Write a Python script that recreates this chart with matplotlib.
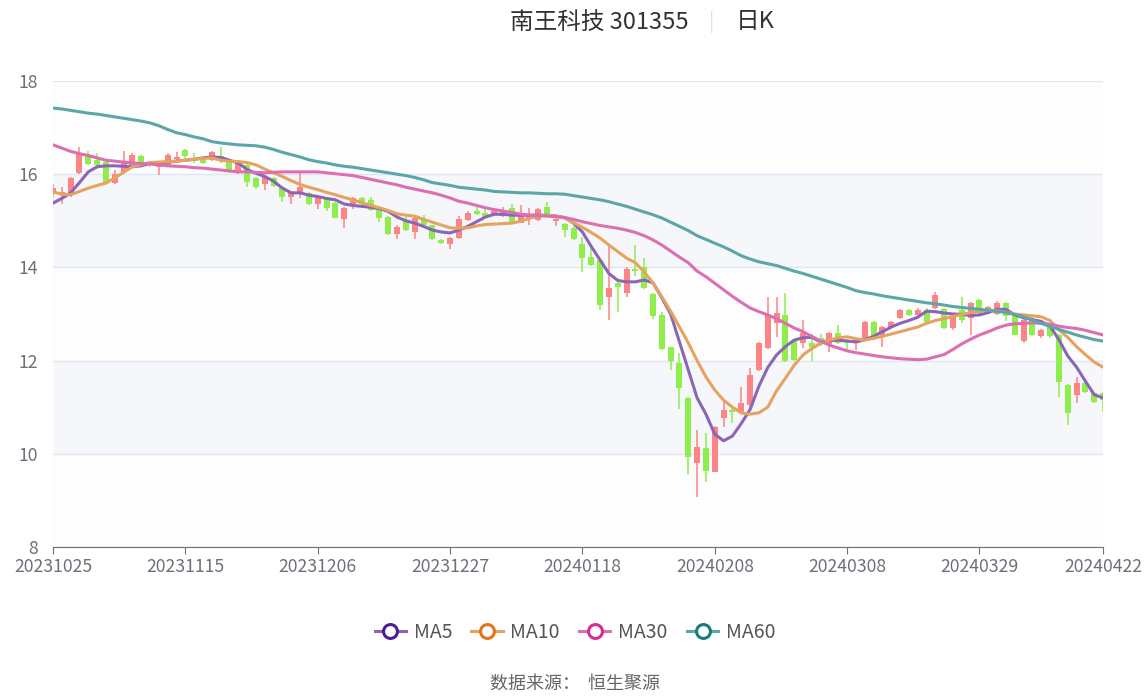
import matplotlib.pyplot as plt
from matplotlib.lines import Line2D
import numpy as np
import pandas as pd

plt.rcParams['font.family'] = ['Noto Sans CJK SC', 'DejaVu Sans']

# trading days 2023-10-25 .. 2024-04-22 (SSE/SZSE holidays removed)
holidays = ['2024-01-01', '2024-02-09', '2024-02-12', '2024-02-13', '2024-02-14',
            '2024-02-15', '2024-02-16', '2024-04-04', '2024-04-05']
dates = [d.strftime('%Y%m%d') for d in pd.bdate_range('2023-10-25', '2024-04-22')
         if d.strftime('%Y-%m-%d') not in holidays]

# daily candles
opens = [15.58, 15.58, 15.56, 16.02, 16.40, 16.30, 16.26, 15.82, 16.05, 16.18,
         16.40, 16.25, 16.15, 16.20, 16.33, 16.52, 16.33, 16.32, 16.30, 16.38,
         16.28, 16.03, 16.20, 15.92, 15.80, 15.92, 15.73, 15.50, 15.60, 15.60,
         15.35, 15.49, 15.38, 15.03, 15.35, 15.48, 15.45, 15.23, 15.08, 14.72,
         15.00, 14.76, 15.02, 14.90, 14.58, 14.50, 14.63, 15.02, 15.20, 15.17,
         15.15, 15.10, 15.27, 14.96, 15.05, 15.02, 15.30, 15.00, 14.93, 14.85,
         14.50, 14.22, 14.15, 13.37, 13.66, 13.46, 13.96, 14.00, 13.43, 12.98,
         12.29, 11.95, 11.20, 9.80, 10.12, 9.62, 10.77, 10.94, 10.88, 11.05,
         11.80, 12.27, 12.80, 12.98, 12.44, 12.38, 12.38, 12.49, 12.33, 12.60,
         12.44, 12.38, 12.44, 12.83, 12.55, 12.72, 12.91, 13.09, 12.98, 13.08,
         13.13, 13.10, 12.70, 13.09, 12.92, 13.30, 13.02, 13.00, 13.24, 12.98,
         12.41, 12.87, 12.52, 12.72, 12.55, 11.48, 11.26, 11.52, 11.30, 11.30]
closes = [15.70, 15.62, 15.92, 16.45, 16.22, 16.20, 15.82, 16.00, 16.27, 16.42,
          16.27, 16.20, 16.20, 16.41, 16.37, 16.38, 16.28, 16.25, 16.48, 16.33,
          16.05, 16.24, 15.84, 15.72, 15.94, 15.74, 15.50, 15.60, 15.73, 15.35,
          15.51, 15.28, 15.07, 15.27, 15.48, 15.35, 15.24, 15.06, 14.72, 14.87,
          14.80, 15.05, 14.90, 14.60, 14.52, 14.63, 15.04, 15.16, 15.15, 15.07,
          15.20, 15.18, 14.98, 15.12, 15.12, 15.25, 15.15, 15.04, 14.80, 14.60,
          14.20, 14.05, 13.20, 13.56, 13.58, 13.97, 13.92, 13.55, 12.95, 12.24,
          12.00, 11.41, 9.94, 10.15, 9.63, 10.58, 10.94, 10.90, 11.10, 11.69,
          12.38, 12.98, 13.02, 12.00, 12.02, 12.59, 12.30, 12.41, 12.59, 12.38,
          12.38, 12.44, 12.83, 12.47, 12.72, 12.83, 13.09, 12.98, 13.08, 12.82,
          13.41, 12.70, 12.94, 12.88, 13.24, 13.02, 13.15, 13.24, 12.95, 12.56,
          12.87, 12.55, 12.66, 12.52, 11.55, 10.88, 11.52, 11.33, 11.12, 11.15]
highs = [15.80, 15.72, 15.95, 16.58, 16.50, 16.45, 16.30, 16.10, 16.50, 16.45,
         16.42, 16.28, 16.22, 16.45, 16.48, 16.55, 16.45, 16.35, 16.50, 16.58,
         16.30, 16.26, 16.22, 15.95, 15.96, 15.95, 15.75, 15.62, 16.03, 15.62,
         15.53, 15.50, 15.40, 15.30, 15.50, 15.50, 15.50, 15.25, 15.10, 14.90,
         15.08, 15.08, 15.12, 14.92, 14.62, 14.65, 15.10, 15.20, 15.30, 15.30,
         15.27, 15.30, 15.35, 15.34, 15.28, 15.28, 15.40, 15.15, 14.95, 14.88,
         14.65, 14.41, 14.17, 14.44, 13.68, 14.00, 14.48, 14.20, 13.45, 13.04,
         12.30, 12.16, 11.22, 10.51, 10.45, 10.60, 11.15, 10.96, 11.43, 11.84,
         12.40, 13.36, 13.36, 13.45, 12.47, 12.87, 12.58, 12.58, 12.62, 12.76,
         12.46, 12.46, 12.85, 12.85, 12.74, 12.85, 13.10, 13.10, 13.12, 13.12,
         13.47, 13.12, 12.98, 13.36, 13.26, 13.32, 13.18, 13.28, 13.26, 13.00,
         12.90, 12.98, 12.68, 12.75, 12.58, 11.50, 11.65, 11.55, 11.32, 11.32]
lows = [15.50, 15.35, 15.50, 16.00, 16.20, 16.12, 15.80, 15.78, 16.02, 16.15,
        16.20, 16.15, 15.98, 16.18, 16.30, 16.35, 16.25, 16.22, 16.28, 16.25,
        16.02, 16.00, 15.73, 15.68, 15.66, 15.72, 15.40, 15.35, 15.48, 15.33,
        15.25, 15.20, 15.05, 14.85, 15.25, 15.32, 15.20, 14.98, 14.70, 14.60,
        14.78, 14.61, 14.88, 14.58, 14.50, 14.40, 14.60, 15.00, 15.13, 15.05,
        15.10, 15.08, 14.97, 14.95, 14.90, 15.00, 15.13, 14.88, 14.65, 14.58,
        13.90, 14.03, 13.08, 12.87, 13.04, 13.36, 13.82, 13.53, 12.90, 12.22,
        11.80, 10.96, 9.57, 9.07, 9.39, 9.60, 10.58, 10.67, 10.85, 11.00,
        11.78, 12.25, 12.50, 11.96, 12.00, 12.27, 12.00, 12.32, 12.18, 12.35,
        12.20, 12.22, 12.42, 12.44, 12.30, 12.70, 12.90, 12.96, 12.95, 12.80,
        13.10, 12.68, 12.66, 12.80, 12.55, 13.00, 13.00, 12.98, 12.85, 12.54,
        12.38, 12.53, 12.48, 12.48, 11.22, 10.62, 11.09, 11.30, 11.10, 10.90]

# moving averages as drawn in the chart
ma5 = [15.38, 15.48, 15.60, 15.82, 16.05, 16.16, 16.18, 16.18, 16.17, 16.16,
       16.18, 16.23, 16.24, 16.26, 16.28, 16.30, 16.32, 16.35, 16.37, 16.36,
       16.30, 16.24, 16.10, 16.02, 15.95, 15.85, 15.70, 15.60, 15.60, 15.55,
       15.52, 15.48, 15.45, 15.36, 15.33, 15.31, 15.29, 15.26, 15.20, 15.08,
       15.00, 14.95, 14.88, 14.80, 14.76, 14.74, 14.80, 14.88, 14.98, 15.08,
       15.14, 15.14, 15.12, 15.12, 15.12, 15.12, 15.12, 15.10, 15.07, 14.95,
       14.76, 14.45, 14.16, 13.87, 13.72, 13.69, 13.69, 13.73, 13.67, 13.35,
       13.00, 12.40, 11.80, 11.20, 10.85, 10.42, 10.28, 10.38, 10.65, 10.95,
       11.45, 11.85, 12.12, 12.30, 12.44, 12.49, 12.50, 12.40, 12.43, 12.44,
       12.42, 12.40, 12.45, 12.52, 12.62, 12.72, 12.80, 12.86, 12.93, 13.06,
       13.05, 13.02, 13.00, 12.99, 12.97, 12.98, 13.03, 13.10, 13.10, 12.98,
       12.92, 12.88, 12.84, 12.74, 12.45, 12.10, 11.86, 11.56, 11.27, 11.20]
ma10 = [15.62, 15.57, 15.56, 15.63, 15.70, 15.76, 15.81, 15.92, 16.04, 16.16,
        16.21, 16.25, 16.26, 16.27, 16.28, 16.30, 16.32, 16.34, 16.35, 16.30,
        16.28, 16.27, 16.25, 16.20, 16.11, 16.03, 15.95, 15.86, 15.78, 15.72,
        15.67, 15.61, 15.56, 15.50, 15.45, 15.39, 15.33, 15.28, 15.22, 15.15,
        15.12, 15.10, 15.03, 14.97, 14.91, 14.85, 14.84, 14.85, 14.89, 14.92,
        14.93, 14.94, 14.95, 14.99, 15.05, 15.10, 15.12, 15.10, 15.06, 14.96,
        14.86, 14.75, 14.63, 14.48, 14.34, 14.20, 14.10, 13.90, 13.67, 13.37,
        13.06, 12.72, 12.38, 12.00, 11.65, 11.37, 11.15, 11.00, 10.88, 10.85,
        10.88, 11.00, 11.35, 11.62, 11.90, 12.12, 12.26, 12.37, 12.44, 12.49,
        12.51, 12.47, 12.44, 12.48, 12.52, 12.57, 12.62, 12.67, 12.72, 12.80,
        12.86, 12.90, 12.95, 12.99, 13.03, 13.06, 13.08, 13.07, 13.04, 13.00,
        12.98, 12.96, 12.94, 12.86, 12.66, 12.50, 12.30, 12.13, 11.97, 11.86]
ma30 = [16.63, 16.56, 16.49, 16.44, 16.40, 16.35, 16.30, 16.28, 16.26, 16.24,
        16.23, 16.22, 16.20, 16.18, 16.17, 16.16, 16.14, 16.13, 16.11, 16.09,
        16.07, 16.05, 16.05, 16.04, 16.03, 16.04, 16.05, 16.05, 16.05, 16.05,
        16.05, 16.03, 16.01, 15.99, 15.97, 15.93, 15.89, 15.85, 15.81, 15.77,
        15.72, 15.68, 15.64, 15.60, 15.55, 15.49, 15.42, 15.38, 15.33, 15.28,
        15.24, 15.21, 15.18, 15.14, 15.12, 15.11, 15.10, 15.09, 15.07, 15.03,
        14.98, 14.94, 14.90, 14.87, 14.84, 14.80, 14.75, 14.68, 14.59, 14.48,
        14.35, 14.22, 14.10, 13.92, 13.80, 13.66, 13.52, 13.38, 13.25, 13.13,
        13.05, 12.98, 12.90, 12.80, 12.70, 12.62, 12.52, 12.42, 12.33, 12.27,
        12.21, 12.17, 12.14, 12.11, 12.08, 12.06, 12.04, 12.03, 12.02, 12.03,
        12.08, 12.13, 12.24, 12.36, 12.46, 12.55, 12.62, 12.70, 12.76, 12.79,
        12.80, 12.81, 12.80, 12.78, 12.74, 12.71, 12.69, 12.65, 12.60, 12.55]
ma60 = [17.42, 17.40, 17.37, 17.34, 17.31, 17.29, 17.26, 17.23, 17.20, 17.17,
        17.14, 17.10, 17.04, 16.96, 16.89, 16.85, 16.80, 16.76, 16.70, 16.67,
        16.65, 16.63, 16.62, 16.61, 16.58, 16.53, 16.47, 16.42, 16.37, 16.31,
        16.27, 16.24, 16.20, 16.17, 16.15, 16.12, 16.09, 16.06, 16.03, 16.00,
        15.97, 15.93, 15.88, 15.82, 15.79, 15.76, 15.72, 15.70, 15.68, 15.66,
        15.63, 15.62, 15.61, 15.60, 15.60, 15.59, 15.58, 15.58, 15.57, 15.54,
        15.51, 15.48, 15.45, 15.41, 15.36, 15.31, 15.25, 15.19, 15.13, 15.06,
        14.97, 14.88, 14.79, 14.68, 14.60, 14.52, 14.44, 14.35, 14.25, 14.18,
        14.12, 14.08, 14.04, 13.98, 13.92, 13.87, 13.81, 13.75, 13.69, 13.63,
        13.57, 13.50, 13.46, 13.43, 13.39, 13.36, 13.33, 13.30, 13.27, 13.24,
        13.22, 13.19, 13.16, 13.14, 13.12, 13.10, 13.08, 13.06, 13.03, 12.99,
        12.94, 12.87, 12.80, 12.73, 12.67, 12.61, 12.55, 12.50, 12.45, 12.42]

ma_names = ['MA5', 'MA10', 'MA30', 'MA60']
ma_line_colors = ['#8a65b8', '#e6a35f', '#dc6fb2', '#5aa6a8']
ma_mark_colors = ['#4a1d94', '#e0761c', '#d42f8e', '#1b7b7b']

up_color = '#fd8484'
down_color = '#8fee4c'

fig = plt.figure(figsize=(11.48, 6.99), dpi=100)
ax = fig.add_axes([53 / 1148, 1 - 547 / 699, 1050 / 1148, 466 / 699])

x = np.arange(len(dates))
o = np.array(opens)
c = np.array(closes)
h = np.array(highs)
l = np.array(lows)

# background bands + grid
band_cols = ['#fdfdfe', '#f5f7fb']
for k, y0 in enumerate(range(8, 18, 2)):
    ax.axhspan(y0, y0 + 2, color=band_cols[k % 2], zorder=0, lw=0)
for yv in range(8, 19, 2):
    ax.axhline(yv, color='#e0e6f1', lw=1, zorder=0.5)

cols = [up_color if cc >= oo else down_color for oo, cc in zip(o, c)]
ax.vlines(x, l, h, colors=cols, lw=1.1, zorder=2)
body = np.maximum(np.abs(c - o), 0.02)
ax.bar(x, body, bottom=np.minimum(o, c), width=0.68, color=cols, zorder=2, lw=0)

for vals, name, lc in zip([ma5, ma10, ma30, ma60], ma_names, ma_line_colors):
    ax.plot(x, vals, color=lc, lw=2.2, zorder=3, solid_capstyle='round')

ax.set_xlim(0, len(dates) - 1)
ax.set_ylim(8, 18)
tick_idx = list(range(0, len(dates) - 1, 15)) + [len(dates) - 1]
ax.set_xticks(tick_idx)
ax.set_xticklabels([dates[i] for i in tick_idx], color='#6e7079', fontsize=12.7)
ax.set_yticks(range(8, 19, 2))
ax.set_yticklabels([str(v) for v in range(8, 19, 2)], color='#6e7079', fontsize=12.7)
for s in ['top', 'right', 'left']:
    ax.spines[s].set_visible(False)
ax.spines['bottom'].set_color('#6e7079')
ax.tick_params(axis='x', length=5, color='#6e7079', pad=3)
ax.tick_params(axis='y', length=0, pad=11)

# title
fig.text(599 / 1148, 1 - 22 / 699, '南王科技 301355', ha='center', va='center',
         fontsize=17, color='#333333')
fig.text(712 / 1148, 1 - 22 / 699, '|', ha='center', va='center', fontsize=14, color='#e0e0e0')
fig.text(755 / 1148, 1 - 22 / 699, '日K', ha='center', va='center', fontsize=17, color='#333333')

handles = [Line2D([0], [0], color=lc, lw=2.2, marker='o', markersize=10,
                  markerfacecolor='white', markeredgecolor=mc, markeredgewidth=2.2)
           for lc, mc in zip(ma_line_colors, ma_mark_colors)]
leg = fig.legend(handles, ma_names, loc='center', bbox_to_anchor=(575 / 1148, 1 - 632 / 699),
                 ncol=4, frameon=False, fontsize=14, handlelength=1.6,
                 columnspacing=1.0, handletextpad=0.4)
for t in leg.get_texts():
    t.set_color('#555555')

fig.text(575 / 1148, 1 - 684 / 699, '数据来源：  恒生聚源', ha='center', va='center',
         fontsize=13, color='#666666')

fig.savefig('out.png', dpi=100)
